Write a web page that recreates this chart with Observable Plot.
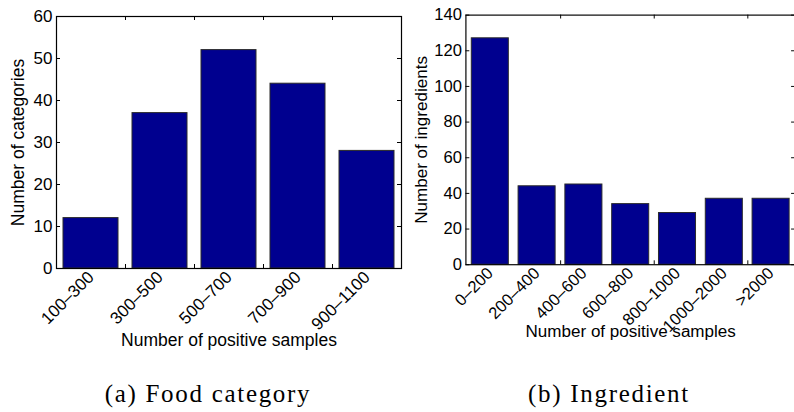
<!DOCTYPE html>
<html><head><meta charset="utf-8">
<script src="https://cdn.jsdelivr.net/npm/d3@7"></script>
<script src="https://cdn.jsdelivr.net/npm/@observablehq/plot@0.6"></script>
<style>
html,body{margin:0;padding:0;background:#fff;overflow:hidden}
#wrap{position:relative;width:794px;height:412px;overflow:hidden;background:#fff}
.panel{position:absolute;top:0}
.panel svg{overflow:visible}
.cap{position:absolute;top:381px;font-family:"Liberation Serif","Times New Roman",serif;font-size:25px;line-height:1;letter-spacing:1.7px;white-space:nowrap;transform:translateX(-50%);color:#000}
</style></head><body>
<div id="wrap">
  <div class="panel" id="pa" style="left:0px"></div>
  <div class="panel" id="pb" style="left:404px"></div>
  <div class="cap" id="capA" style="left:208px"></div>
  <div class="cap" id="capB" style="left:609px"></div>
</div>
<script>
const catsA = ["100–300","300–500","500–700","700–900","900–1100"];
const valsA = [12, 37, 52, 44, 28];
const ticksA = [0, 10, 20, 30, 40, 50, 60];
const catsB = ["0–200","200–400","400–600","600–800","800–1000","1000–2000",">2000"];
const valsB = [127, 44, 45, 34, 29, 37, 37];
const ticksB = [0, 20, 40, 60, 80, 100, 120, 140];
const xTitle = "Number of positive samples";
const yTitleA = "Number of categories";
const yTitleB = "Number of ingredients";
const capA = "(a) Food category";
const capB = "(b) Ingredient";
// x tick marks sit on the boundary after these categories
const boundA = [catsA[0], catsA[1], catsA[2], catsA[3]];
const boundB = [catsB[1], catsB[3], catsB[5]];

function panel(o){
  const data = o.cats.map((c,i)=>({c, v:o.vals[i]}));
  const pw = o.width - o.ml - o.mr, ph = o.height - o.mt - o.mb;
  const step = pw / o.cats.length;
  const tl = 4;
  return Plot.plot({
    width:o.width, height:o.height,
    marginLeft:o.ml, marginRight:o.mr, marginTop:o.mt, marginBottom:o.mb,
    style:{fontFamily:"'Liberation Sans', Arial, sans-serif", fontSize:"17px", color:"#000", background:"transparent", overflow:"visible"},
    x:{type:"band", domain:o.cats, paddingInner:0.2, paddingOuter:0.1},
    y:{domain:[0, o.ticks[o.ticks.length-1]]},
    marks:[
      Plot.barY(data,{x:"c", y:"v", fill:"#00008f", stroke:"#2a2a2a", strokeWidth:1}),
      Plot.frame({stroke:"#000", strokeWidth:1.2}),
      Plot.tickY(o.ticks,{y:d=>d, insetRight: pw - tl, stroke:"#000"}),
      Plot.tickY(o.ticks,{y:d=>d, insetLeft: pw - tl, stroke:"#000"}),
      Plot.tickX(o.bounds,{x:d=>d, dx: step/2, insetBottom: ph - tl, stroke:"#000"}),
      Plot.tickX(o.bounds,{x:d=>d, dx: step/2, insetTop: ph - tl, stroke:"#000"}),
      Plot.axisY({ticks:o.ticks, tickSize:0, tickPadding:4, label:null}),
      Plot.axisX({tickSize:0, tickRotate:-45, tickPadding:6, label:null}),
      Plot.text([o.yTitle],{frameAnchor:"left", textAnchor:"middle", dx:o.yDx, rotate:-90, fontSize:17.5, text:d=>d, fill:"#000"}),
      Plot.text([xTitle],{frameAnchor:"bottom", dy:o.xDy, fontSize:17.5, text:d=>d, fill:"#000"})
    ]
  });
}

document.getElementById("pa").appendChild(panel({
  cats:catsA, vals:valsA, ticks:ticksA, yTitle:yTitleA, bounds:boundA,
  width:404, height:360, ml:56, mr:3, mt:16, mb:92, yDx:-38, xDy:77
}));
document.getElementById("pb").appendChild(panel({
  cats:catsB, vals:valsB, ticks:ticksB, yTitle:yTitleB, bounds:boundB,
  width:400, height:360, ml:63, mr:-1, mt:15, mb:89, yDx:-46, xDy:74
}));
document.getElementById("capA").textContent = capA;
document.getElementById("capB").textContent = capB;
</script>
</body></html>
